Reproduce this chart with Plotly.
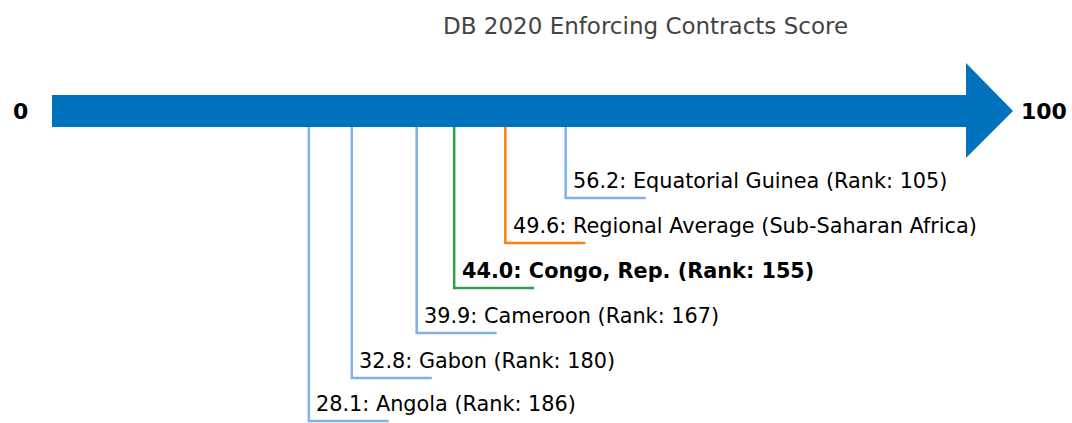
import plotly.graph_objects as go

# ---- data ----
labels = ["Equatorial Guinea (Rank: 105)", "Regional Average (Sub-Saharan Africa)",
          "Congo, Rep. (Rank: 155)", "Cameroon (Rank: 167)", "Gabon (Rank: 180)",
          "Angola (Rank: 186)"]
scores = [56.2, 49.6, 44.0, 39.9, 32.8, 28.1]
kinds = ["peer", "region", "focus", "peer", "peer", "peer"]
title = "DB 2020 Enforcing Contracts Score"
scale_min, scale_max = 0, 100

# ---- layout / style ----
W, H = 1072, 423
X0_PX, X100_PX = 52, 966
ppu = (X100_PX - X0_PX) / (scale_max - scale_min)
xr = [scale_min - X0_PX / ppu, scale_min + (W - X0_PX) / ppu]
bar_top, bar_bot = 95, 127
head_top, head_bot, head_len = 63, 158, (1013 - X100_PX) / ppu
levels = [198, 243, 288, 333, 378, 421]
hlen = 80 / ppu
txt_off = 5.5 / ppu
colors = {"peer": "#80B0EE", "region": "#FF7F0E", "focus": "#2CA04A"}
FONT = "DejaVu Sans"

fig = go.Figure()
mid = (bar_top + bar_bot) / 2
path = (f"M {scale_min} {bar_top} L {scale_max} {bar_top} L {scale_max} {head_top} "
        f"L {scale_max + head_len} {mid} L {scale_max} {head_bot} L {scale_max} {bar_bot} "
        f"L {scale_min} {bar_bot} Z")
fig.add_shape(type="path", path=path, fillcolor="#0072BE", line=dict(width=0), layer="above")

for lab, s, k, lv in zip(labels, scores, kinds, levels):
    fig.add_trace(go.Scatter(x=[s, s, s + hlen], y=[bar_bot, lv, lv], mode="lines",
                             line=dict(color=colors[k], width=2.5), hoverinfo="skip",
                             showlegend=False))
    txt = f"{s:.1f}: {lab}"
    if k == "focus":
        txt = f"<b>{txt}</b>"
    fig.add_annotation(x=s + txt_off, y=lv - 17, text=txt, showarrow=False,
                       xanchor="left", yanchor="middle",
                       font=dict(family=FONT, size=20.8, color="black"))

fig.add_annotation(x=scale_min - 3.5, y=mid, text=f"<b>{scale_min}</b>", showarrow=False,
                   xanchor="center", yanchor="middle", font=dict(family=FONT, size=22, color="black"))
fig.add_annotation(x=scale_max + head_len + 0.7, y=mid, text=f"<b>{scale_max}</b>", showarrow=False,
                   xanchor="left", yanchor="middle", font=dict(family=FONT, size=22, color="black"))
fig.add_annotation(x=(645 - X0_PX) / ppu, y=26, text=title, showarrow=False,
                   xanchor="center", yanchor="middle", font=dict(family=FONT, size=23, color="#444444"))

fig.update_layout(width=W, height=H, margin=dict(l=0, r=0, t=0, b=0),
                  paper_bgcolor="white", plot_bgcolor="white",
                  xaxis=dict(range=xr, visible=False, fixedrange=True),
                  yaxis=dict(range=[H, 0], visible=False, fixedrange=True))
fig.write_html("out.html", config={"displayModeBar": False},
               post_script="document.body.style.margin='0';document.body.style.overflow='hidden';")
